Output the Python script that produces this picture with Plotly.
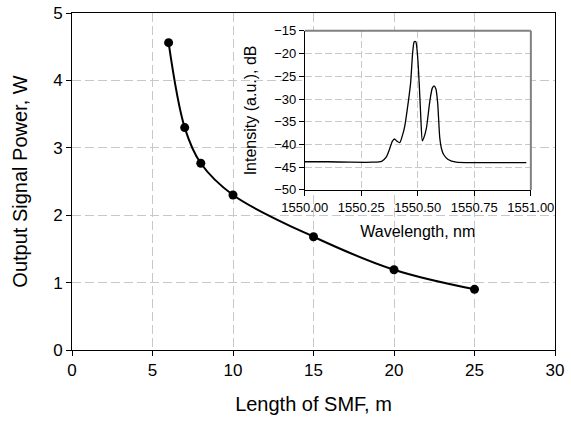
import plotly.graph_objects as go

# Main chart data
smf_length = [6, 7, 8, 10, 15, 20, 25]
output_power = [4.56, 3.30, 2.77, 2.30, 1.68, 1.19, 0.90]

# Inset spectrum data
wavelength = [1550.00, 1550.10, 1550.20, 1550.30, 1550.34, 1550.36, 1550.375, 1550.387,
              1550.397, 1550.408, 1550.42, 1550.432, 1550.442, 1550.453, 1550.468, 1550.477,
              1550.484, 1550.491, 1550.499, 1550.506, 1550.513, 1550.520, 1550.526, 1550.538,
              1550.553, 1550.564, 1550.572, 1550.580, 1550.588, 1550.597, 1550.605, 1550.614,
              1550.634, 1550.67, 1550.75, 1550.85, 1550.98]
intensity = [-43.8, -43.8, -43.9, -43.9, -43.7, -42.8, -41.0, -39.3,
             -38.8, -39.3, -39.6, -38.0, -36.0, -32.4, -26.5, -19.9,
             -17.4, -17.4, -20.6, -26.5, -33.9, -39.2, -38.6, -36.4,
             -30.5, -27.6, -27.1, -27.8, -31.0, -38.5, -41.0, -42.2,
             -43.3, -43.9, -44.0, -44.0, -44.0]

main_xticks = [0, 5, 10, 15, 20, 25, 30]
main_yticks = [0, 1, 2, 3, 4, 5]
inset_xticks = [1550.00, 1550.25, 1550.50, 1550.75, 1551.00]
inset_xlabels = ["1550.00", "1550.25", "1550.50", "1550.75", "1551.00"]
inset_yticks = [-50, -45, -40, -35, -30, -25, -20, -15]

FONT = "Liberation Sans, Arial, sans-serif"
GRID = "#c8c8c8"

fig = go.Figure()
fig.add_trace(go.Scatter(
    x=smf_length, y=output_power, mode="lines+markers",
    line=dict(color="black", width=2, shape="spline", smoothing=1.0),
    marker=dict(color="black", size=9),
    xaxis="x", yaxis="y", showlegend=False))
fig.add_trace(go.Scatter(
    x=wavelength, y=intensity, mode="lines",
    line=dict(color="black", width=1.3, shape="spline", smoothing=0.6),
    xaxis="x2", yaxis="y2", showlegend=False))

ix0, ix1 = 0.482, 0.950
iy0, iy1 = 0.475, 0.947

fig.update_layout(
    width=571, height=426,
    margin=dict(l=72, r=16, t=13, b=76, autoexpand=False),
    paper_bgcolor="white", plot_bgcolor="white",
    font=dict(family=FONT, color="black"),
    xaxis=dict(domain=[0, 1], range=[0, 30], tickvals=main_xticks, automargin=False,
               showline=True, linecolor="black", linewidth=1, mirror=True,
               ticks="outside", ticklen=5, tickcolor="black",
               showgrid=True, gridcolor=GRID, gridwidth=1.2, griddash="9px,4px",
               zeroline=False, tickfont=dict(size=17),
               title=dict(text="Length of SMF, m", font=dict(size=20), standoff=17)),
    yaxis=dict(domain=[0, 1], range=[0, 5], tickvals=main_yticks, automargin=False,
               showline=True, linecolor="black", linewidth=1, mirror=True,
               ticks="outside", ticklen=5, tickcolor="black",
               showgrid=True, gridcolor=GRID, gridwidth=1.2, griddash="9px,4px",
               zeroline=False, tickfont=dict(size=17),
               title=dict(text="Output Signal Power, W", font=dict(size=20), standoff=20)),
    xaxis2=dict(domain=[ix0, ix1], anchor="y2", range=[1550.0, 1551.0], automargin=False,
                tickvals=inset_xticks, ticktext=inset_xlabels,
                showline=True, linecolor="black", linewidth=1,
                ticks="outside", ticklen=5, tickcolor="black",
                showgrid=True, gridcolor=GRID, gridwidth=1, griddash="7px,3px",
                zeroline=False, tickfont=dict(size=13),
                title=dict(text="Wavelength, nm", font=dict(size=16), standoff=12)),
    yaxis2=dict(domain=[iy0, iy1], anchor="x2", range=[-50, -15], automargin=False,
                tickvals=inset_yticks,
                showline=True, linecolor="black", linewidth=1,
                ticks="outside", ticklen=5, tickcolor="black",
                showgrid=True, gridcolor=GRID, gridwidth=1, griddash="7px,3px",
                zeroline=False, tickfont=dict(size=13),
                title=dict(text="Intensity (a.u.), dB", font=dict(size=16), standoff=13)),
)

fig.add_shape(type="line", xref="paper", yref="paper", x0=ix0, x1=ix1, y0=iy1, y1=iy1,
              line=dict(color="#808080", width=2), layer="above")
fig.add_shape(type="line", xref="paper", yref="paper", x0=ix1, x1=ix1, y0=iy0, y1=iy1,
              line=dict(color="#808080", width=2), layer="above")

fig.write_html("out.html")
